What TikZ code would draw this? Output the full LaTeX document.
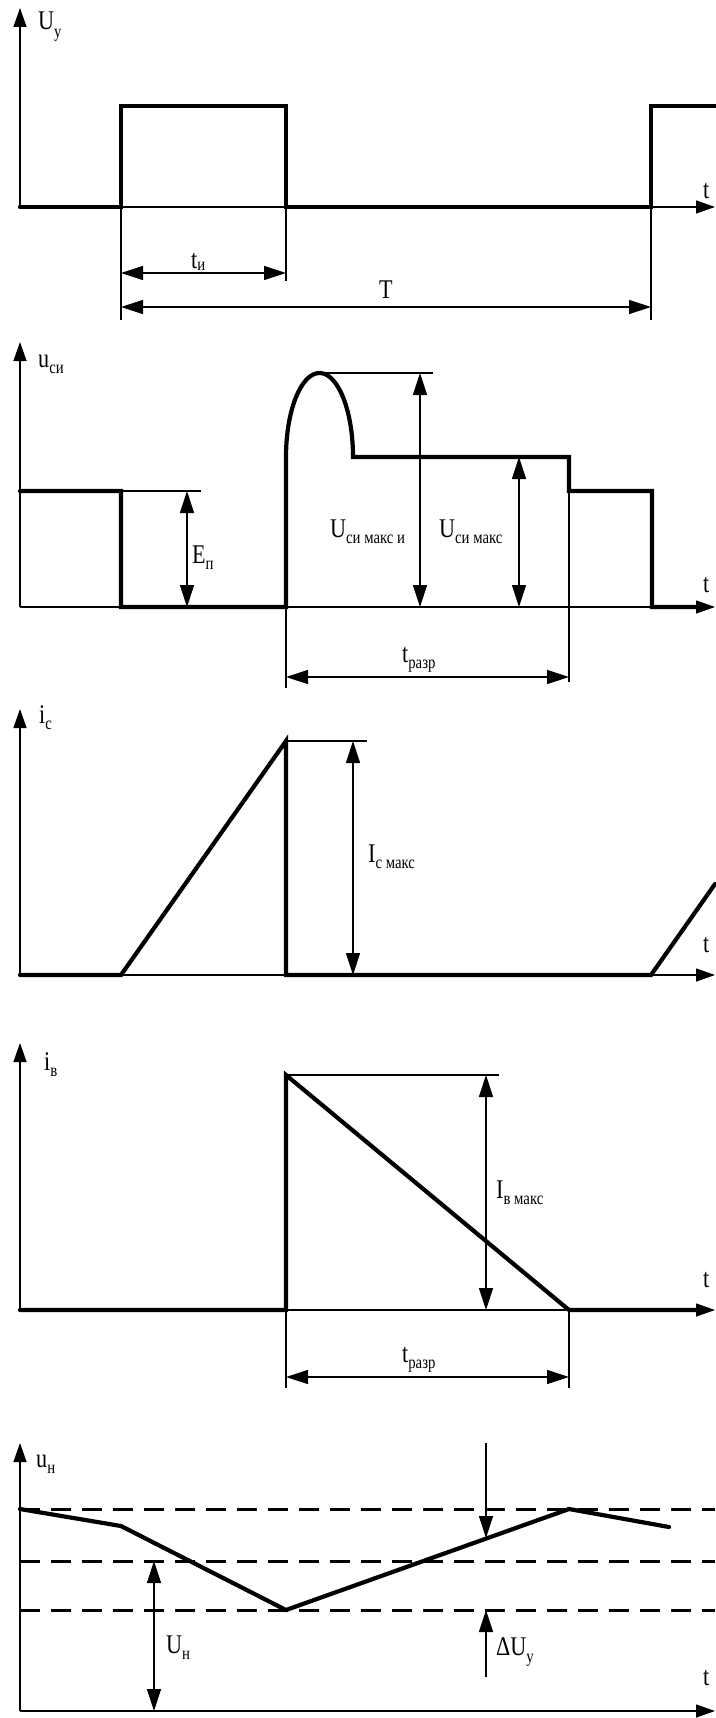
\documentclass[tikz,border=0pt]{standalone}
\usepackage{fontspec}
\setmainfont{Liberation Serif}[FakeStretch=0.82]
\usetikzlibrary{arrows.meta}
\newcommand\lb[3][6pt]{#2\raisebox{-#1}{\fontsize{18}{18}\selectfont #3}}
\tikzset{
  wave/.style={line width=4.2pt, line join=miter, line cap=round},
  fine/.style={line width=1.3pt},
  axisarr/.style={fine, -{Triangle[length=19pt,width=13pt]}},
  dimarr/.style={fine, {Triangle[length=22pt,width=14pt]}-{Triangle[length=22pt,width=14pt]}},
  onearr/.style={fine, -{Triangle[length=22pt,width=14pt]}},
  dashline/.style={line width=3pt, dash pattern=on 20pt off 11pt},
  lab/.style={inner sep=0pt, anchor=base west, font=\fontsize{27}{29}\selectfont},
}
\begin{document}
\begin{tikzpicture}[x=1pt,y=-1pt]
\useasboundingbox (0,0) rectangle (715,1718);

% ================= Panel 1: U_y =================
\coordinate (o1) at (20,207);
\coordinate (y1) at (20,8);
\coordinate (x1) at (715,207);
\draw[axisarr] (o1) -- (y1);
\draw[axisarr] (o1) -- (x1);
\draw[wave] (20,207) -- (121,207) -- (121,106) -- (286,106) -- (286,207) -- (651,207) -- (651,106) -- (717,106);
\draw[fine] (121,207) -- (121,320);
\draw[fine] (286,207) -- (286,281);
\draw[fine] (651,207) -- (651,320);
\coordinate (ti1) at (121,273); \coordinate (ti2) at (286,273);
\coordinate (T1) at (121,307); \coordinate (T2) at (651,307);
\draw[dimarr] (ti1) -- (ti2);
\draw[dimarr] (T1) -- (T2);
\node[lab] (lUy) at (38,30) {\lb[8pt]{U}{у}};
\node[lab] (lt1) at (703,198) {t};
\node[lab] (lti) at (191,268) {\lb[2pt]{t}{и}};
\node[lab, anchor=base] (lT) at (386,298) {T};

% ================= Panel 2: u_si =================
\coordinate (o2) at (20,607);
\coordinate (y2) at (20,342);
\coordinate (x2) at (715,607);
\draw[axisarr] (o2) -- (y2);
\draw[axisarr] (o2) -- (x2);
\draw[wave] (20,491) -- (121,491) -- (121,607) -- (286,607) -- (286,457)
  .. controls (286,410.6) and (301,373) .. (319.5,373)
  .. controls (338,373) and (353,410.6) .. (353,457)
  -- (569,457) -- (569,491) -- (652,491) -- (652,607) -- (697,607);
\draw[fine] (121,491) -- (201,491);
\draw[fine] (319,373) -- (433,373);
\draw[fine] (286,607) -- (286,688);
\draw[fine] (569,491) -- (569,682);
\coordinate (e1) at (187,491); \coordinate (e2) at (187,607);
\coordinate (um1) at (420,373); \coordinate (um2) at (420,607);
\coordinate (us1) at (519,457); \coordinate (us2) at (519,607);
\coordinate (tr1) at (286,677); \coordinate (tr2) at (569,677);
\draw[dimarr] (e1) -- (e2);
\draw[dimarr] (um1) -- (um2);
\draw[dimarr] (us1) -- (us2);
\draw[dimarr] (tr1) -- (tr2);
\node[lab] (lusi) at (38,367) {\lb{u}{си}};
\node[lab] (lE) at (192,563) {\lb{E}{п}};
\node[lab] (lUmi) at (330,537) {\lb{U}{си макс и}};
\node[lab] (lUm) at (439,537) {\lb{U}{си макс}};
\node[lab] (lt2) at (703,592) {t};
\node[lab] (ltr1) at (402,662) {\lb{t}{разр}};

% ================= Panel 3: i_c =================
\coordinate (o3) at (20,975);
\coordinate (y3) at (20,709);
\coordinate (x3) at (715,975);
\draw[axisarr] (o3) -- (y3);
\draw[axisarr] (o3) -- (x3);
\draw[wave] (20,975) -- (121,975) -- (286,741) -- (286,975) -- (651,975) -- (715,884);
\draw[fine] (286,741) -- (367,741);
\coordinate (ic1) at (353,741); \coordinate (ic2) at (353,975);
\draw[dimarr] (ic1) -- (ic2);
\node[lab] (lic) at (39,723) {\lb{i}{с}};
\node[lab] (lIc) at (368,862) {\lb{I}{с макс}};
\node[lab] (lt3) at (703,952) {t};

% ================= Panel 4: i_v =================
\coordinate (o4) at (20,1310);
\coordinate (y4) at (20,1043);
\coordinate (x4) at (715,1310);
\draw[axisarr] (o4) -- (y4);
\draw[axisarr] (o4) -- (x4);
\draw[wave] (20,1310) -- (286,1310) -- (286,1075) -- (569,1310) -- (697,1310);
\draw[fine] (286,1075) -- (499,1075);
\draw[fine] (286,1310) -- (286,1388);
\draw[fine] (569,1310) -- (569,1388);
\coordinate (iv1) at (486,1075); \coordinate (iv2) at (486,1310);
\coordinate (tr3) at (286,1377); \coordinate (tr4) at (569,1377);
\draw[dimarr] (iv1) -- (iv2);
\draw[dimarr] (tr3) -- (tr4);
\node[lab] (liv) at (44,1070) {\lb{i}{в}};
\node[lab] (lIv) at (496,1198) {\lb{I}{в макс}};
\node[lab] (lt4) at (703,1287) {t};
\node[lab] (ltr2) at (402,1362) {\lb{t}{разр}};

% ================= Panel 5: u_n =================
\coordinate (o5) at (20,1711);
\coordinate (y5) at (20,1443);
\coordinate (x5) at (715,1711);
\draw[axisarr] (o5) -- (y5);
\draw[axisarr] (o5) -- (x5);
\draw[dashline] (20,1509) -- (715,1509);
\draw[dashline] (20,1561) -- (715,1561);
\draw[dashline] (20,1610) -- (715,1610);
\draw[wave] (20,1509) -- (121,1526) -- (286,1610) -- (569,1509) -- (669,1527);
\coordinate (un1) at (154,1561); \coordinate (un2) at (154,1711);
\draw[dimarr] (un1) -- (un2);
\coordinate (du1) at (486,1443); \coordinate (du2) at (486,1538);
\coordinate (du3) at (486,1677); \coordinate (du4) at (486,1610);
\draw[onearr] (du1) -- (du2);
\draw[onearr] (du3) -- (du4);
\node[lab] (lun) at (36,1467) {\lb{u}{н}};
\node[lab] (lUn) at (166,1653) {\lb{U}{н}};
\node[lab] (ldU) at (496,1655) {\lb[7pt]{ΔU}{у}};
\node[lab] (lt5) at (703,1685) {t};
\end{tikzpicture}
\end{document}
